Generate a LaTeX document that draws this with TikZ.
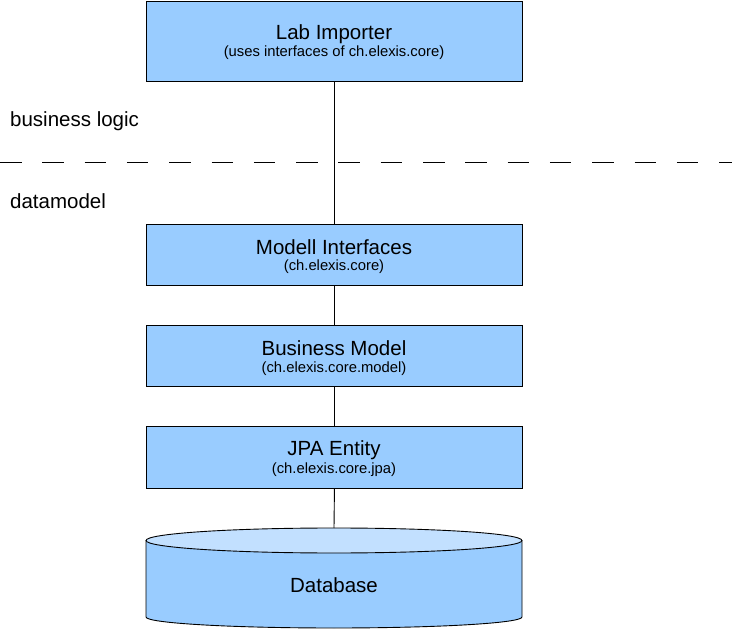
\documentclass[tikz,border=0pt]{standalone}
\usepackage{fontspec}
\setmainfont{Liberation Sans}
\definecolor{boxblue}{HTML}{99CCFF}
\definecolor{topblue}{HTML}{C2E0FF}
\begin{document}
\begin{tikzpicture}[x=1pt,y=-1pt,
  layerbox/.style={draw=black, line width=0.9pt, fill=boxblue, minimum width=376pt, anchor=north west, inner sep=0pt},
  titletext/.style={font=\fontsize{20.5}{24}\selectfont, inner sep=0pt},
  subtext/.style={font=\fontsize{14.8}{17}\selectfont, inner sep=0pt},
  sidetext/.style={font=\fontsize{20.5}{24}\selectfont, inner sep=0pt, anchor=west},
  link/.style={draw=black, line width=0.9pt}]
\useasboundingbox (0,0) rectangle (732,631);
% boxes
\node[layerbox, minimum height=80pt] (lab) at (146,1) {};
\node[layerbox, minimum height=61pt] (modell) at (146,224) {};
\node[layerbox, minimum height=61pt] (business) at (146,325) {};
\node[layerbox, minimum height=61pt] (jpa) at (146,426.5) {};
% database cylinder
\coordinate (dbtop) at (334,528);
\fill[boxblue] (146,540.5) -- (146,617) arc[start angle=180, end angle=0, x radius=188, y radius=11] -- (522,540.5) -- cycle;
\draw[line width=0.9pt] (146,540.5) -- (146,617) arc[start angle=180, end angle=0, x radius=188, y radius=11] -- (522,540.5);
\draw[line width=0.9pt, fill=topblue] (334,540.5) ellipse[x radius=188, y radius=12.5];
% texts
\node[titletext] (labt) at (334,34.5) {Lab Importer};
\node[subtext] (labs) at (334,53) {(uses interfaces of ch.elexis.core)};
\node[titletext] (modt) at (334,247) {Modell Interfaces};
\node[subtext] (mods) at (334,267) {(ch.elexis.core)};
\node[titletext] (bust) at (334,348.5) {Business Model};
\node[subtext] (buss) at (334,368.5) {(ch.elexis.core.model)};
\node[titletext] (jpat) at (334,450) {JPA Entity};
\node[subtext] (jpas) at (334,469.5) {(ch.elexis.core.jpa)};
\node[titletext] (dbt) at (334,585) {Database};
\node[sidetext] (bl) at (10,121) {business logic};
\node[sidetext] (dm) at (10,201.5) {datamodel};
% divider
\coordinate (dl) at (0,162);
\coordinate (dr) at (732,162);
\draw[line width=0.9pt, dash pattern=on 21.5pt off 20.8pt] (dl) -- (dr);
% connectors
\draw[link] (lab.south) -- (modell.north);
\draw[link] (modell.south) -- (business.north);
\draw[link] (business.south) -- (jpa.north);
\draw[link] (jpa.south) -- (dbtop);
\end{tikzpicture}
\end{document}
